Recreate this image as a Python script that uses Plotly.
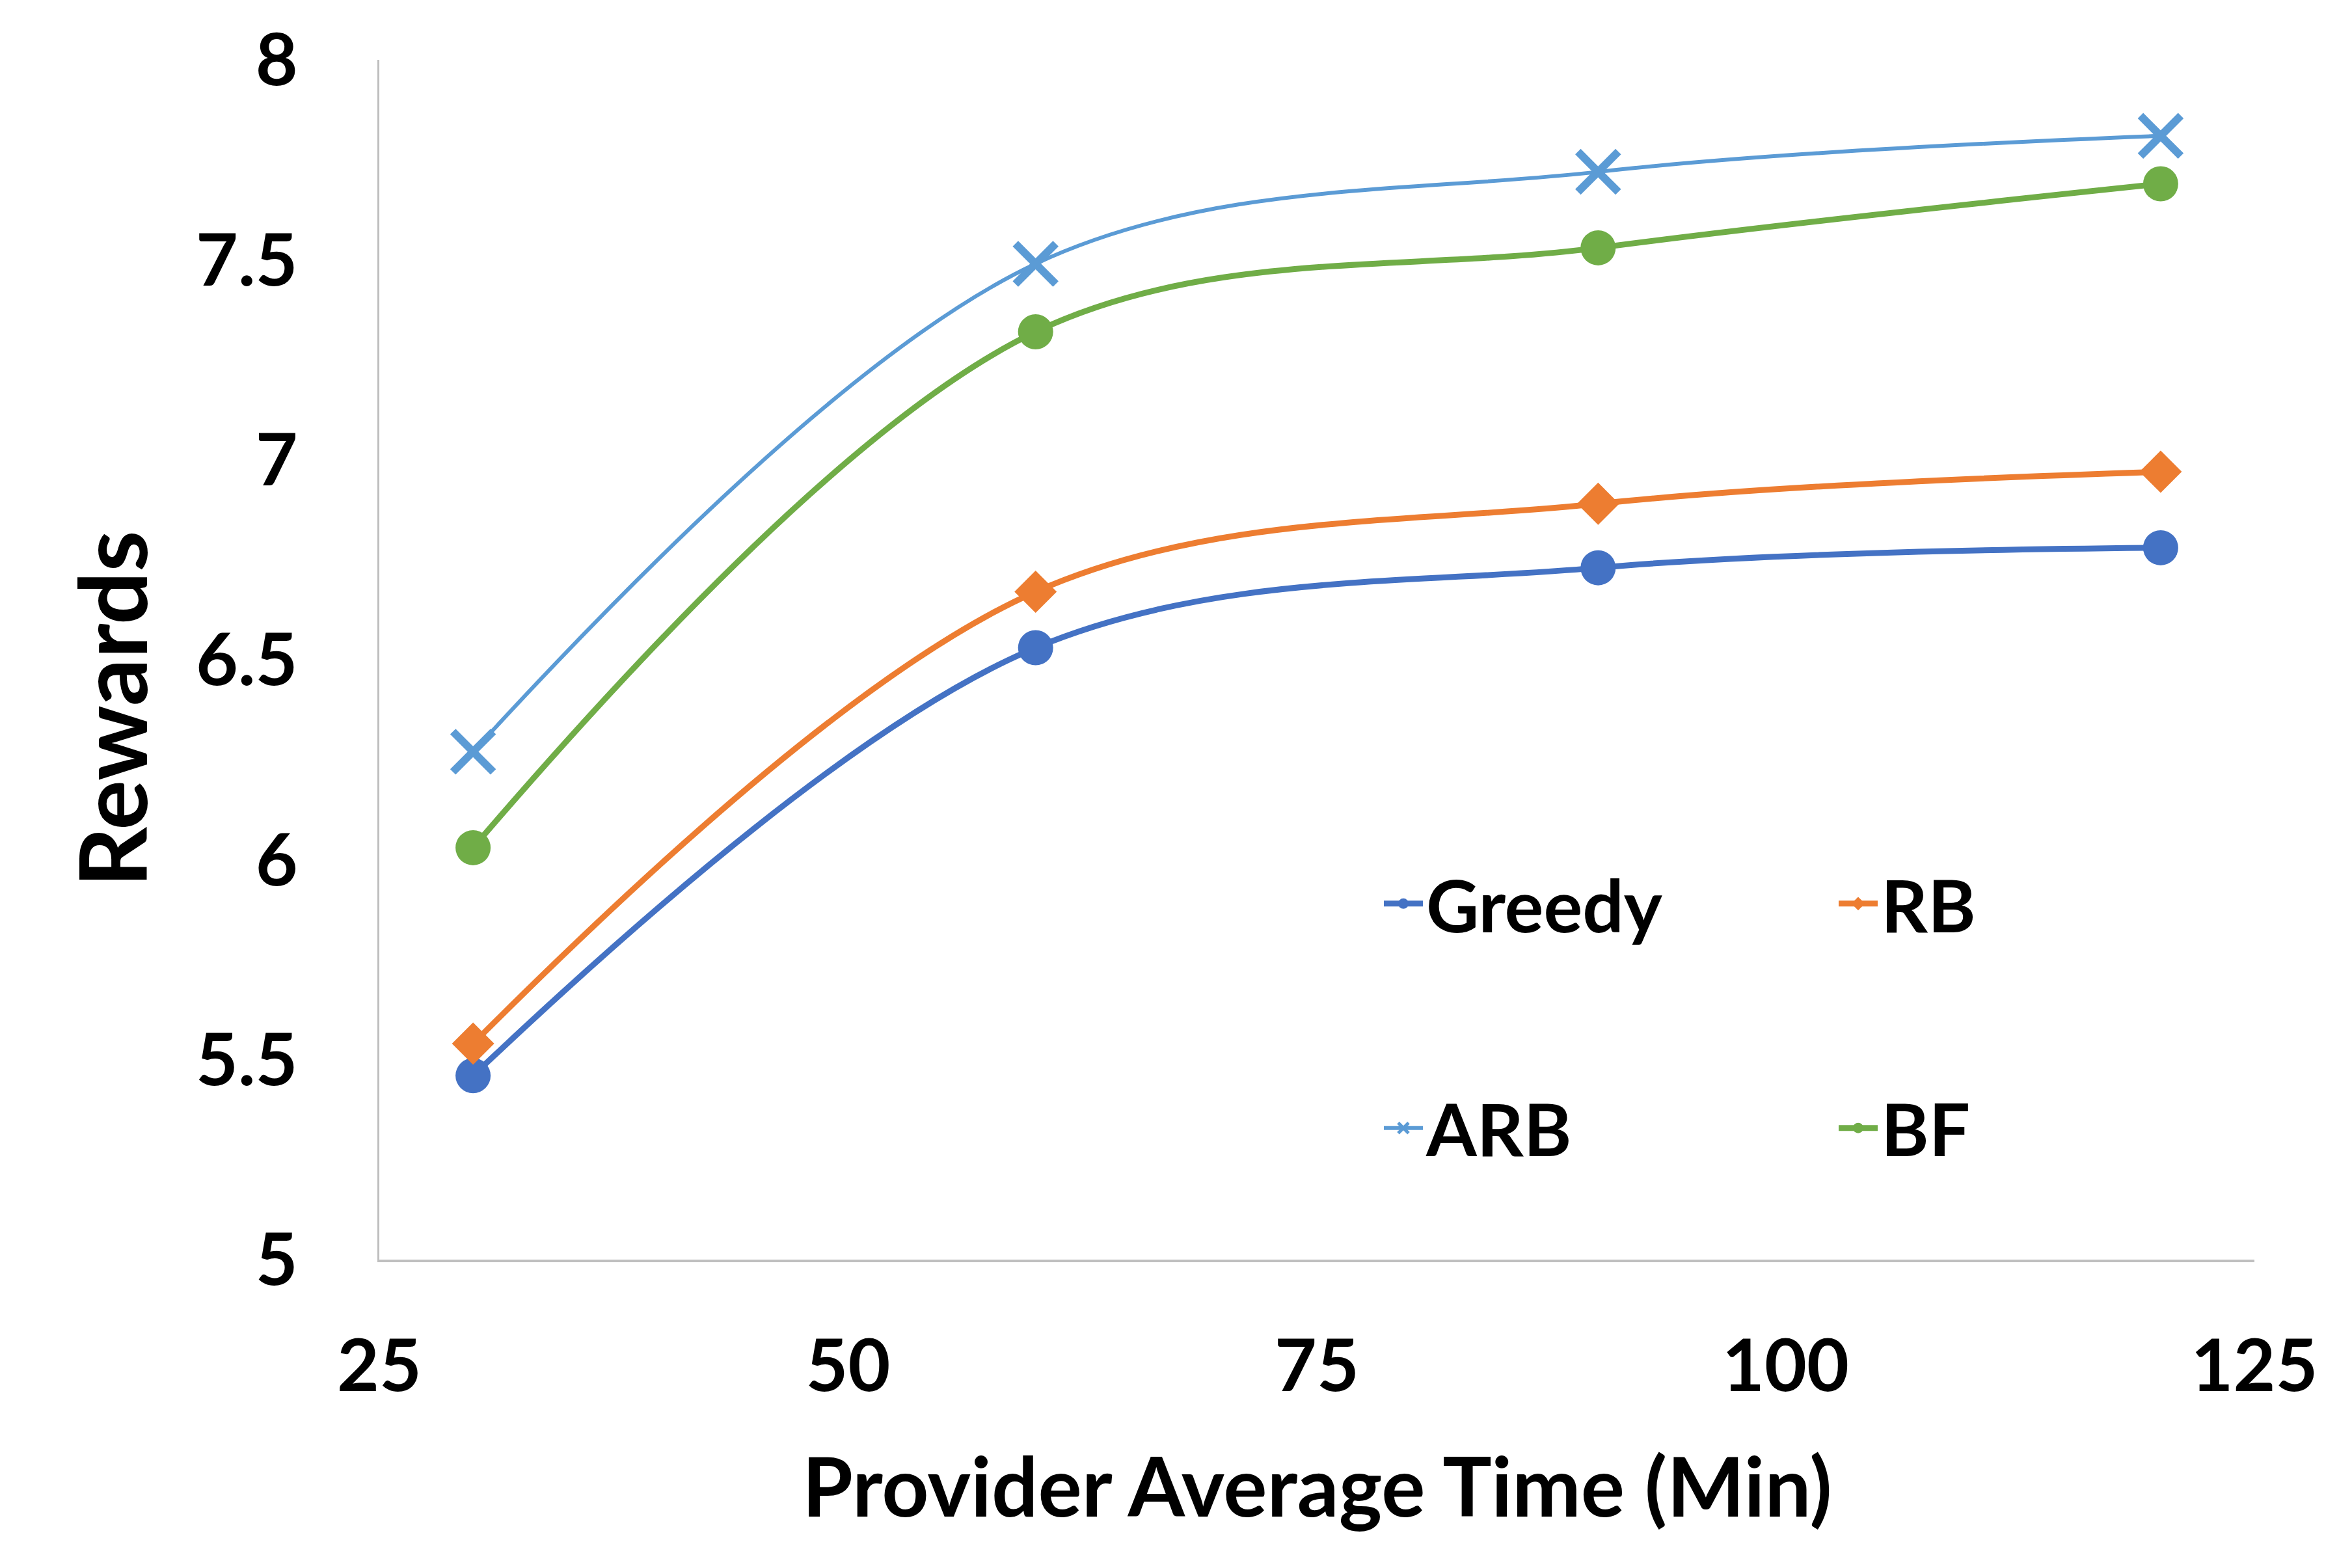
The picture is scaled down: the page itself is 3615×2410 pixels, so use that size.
import plotly.graph_objects as go

# provider average time (min) on x
times = [30, 60, 90, 120]

# rewards per method
greedy = [5.46, 6.53, 6.73, 6.78]
rb = [5.54, 6.67, 6.89, 6.97]
arb = [6.27, 7.49, 7.72, 7.81]
bf = [6.03, 7.32, 7.53, 7.69]

names = ["Greedy", "RB", "ARB", "BF"]
colors = ["#4472C4", "#ED7D31", "#5B9BD5", "#70AD47"]
FONT = "Lato"

fig = go.Figure()

# Greedy / RB on the first legend row, ARB / BF on the second
fig.add_trace(go.Scatter(x=times, y=greedy, name="Greedy", mode="lines+markers",
                         line=dict(color=colors[0], width=9, shape="spline"),
                         marker=dict(symbol="circle", size=54, color=colors[0]),
                         legend="legend"))
fig.add_trace(go.Scatter(x=times, y=rb, name="RB", mode="lines+markers",
                         line=dict(color=colors[1], width=9, shape="spline"),
                         marker=dict(symbol="diamond", size=50, color=colors[1]),
                         legend="legend"))
fig.add_trace(go.Scatter(x=times, y=arb, name="ARB", mode="lines+markers",
                         line=dict(color=colors[2], width=6, shape="spline"),
                         marker=dict(symbol="x-thin", size=62, color=colors[2],
                                     line=dict(color=colors[2], width=12)),
                         legend="legend2"))
fig.add_trace(go.Scatter(x=times, y=bf, name="BF", mode="lines+markers",
                         line=dict(color=colors[3], width=9, shape="spline"),
                         marker=dict(symbol="circle", size=54, color=colors[3]),
                         legend="legend2"))

leg_common = dict(orientation="h", xanchor="left", yanchor="middle",
                  entrywidth=624, entrywidthmode="pixels",
                  font=dict(family=FONT, size=112, color="black", weight="bold"),
                  bgcolor="rgba(0,0,0,0)", itemwidth=60)

# page adds an 8px body margin, so the figure is 16px smaller and shifted
fig.update_layout(
    width=3599, height=2394,
    margin=dict(l=575, r=142, t=73, b=466),
    plot_bgcolor="white", paper_bgcolor="white",
    font=dict(family=FONT, color="black"),
    legend=dict(x=0.534, y=0.2966, **leg_common),
    legend2=dict(x=0.534, y=0.1096, **leg_common),
)

fig.update_xaxes(range=[25, 125], tick0=25, dtick=25, showgrid=False, zeroline=False,
                 showline=True, linecolor="#BFBFBF", linewidth=4,
                 ticks="", ticklabelstandoff=64,
                 tickfont=dict(family=FONT, size=112, color="black", weight="bold"))
fig.update_yaxes(range=[5, 8], tick0=5, dtick=0.5, showgrid=False, zeroline=False,
                 showline=True, linecolor="#BFBFBF", linewidth=3,
                 ticks="", ticklabelstandoff=100,
                 tickfont=dict(family=FONT, size=112, color="black", weight="bold"))

# axis titles as annotations so they sit where the original has them
fig.add_annotation(text="<b>Provider Average Time (Min)</b>", xref="paper", yref="paper",
                   x=0.5, y=-0.188, xanchor="center", yanchor="middle", showarrow=False,
                   font=dict(family=FONT, size=126, color="black"))
fig.add_annotation(text="<b>Rewards</b>", xref="paper", yref="paper",
                   x=-0.143, y=0.459, xanchor="center", yanchor="middle", showarrow=False,
                   textangle=-90, font=dict(family=FONT, size=144, color="black"))

fig.write_html("out.html")
